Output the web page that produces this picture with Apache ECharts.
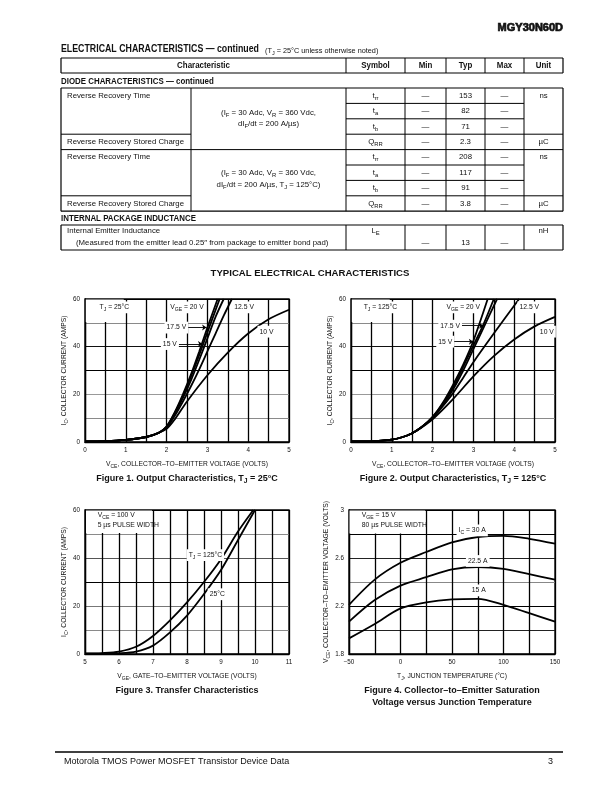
<!DOCTYPE html>
<html>
<head>
<meta charset="utf-8">
<script src="https://cdn.jsdelivr.net/npm/echarts@6/dist/echarts.min.js"></script>
<style>
html, body { margin: 0; padding: 0; background: #fff; }
#page { width: 612px; height: 792px; }
</style>
</head>
<body>
<div id="page"></div>
<script>
// ---- table values ----
const diodeSymbols = ['{n|t}{s|rr}', '{n|t}{s|a}', '{n|t}{s|b}', '{n|Q}{s|RR}'];
const typ25 = ['153', '82', '71', '2.3'];
const typ125 = ['208', '117', '91', '3.8'];
const diodeUnits = ['ns', 'µC'];
const leTyp = '13';

// ---- Figure 1: output characteristics, TJ = 25C  (VCE volts, IC amps) ----
const out25_20 = [[0, 0.3], [0.5, 0.4], [1, 0.9], [1.5, 2.1], [1.8, 3.8], [2, 6.5], [2.2, 12.5], [2.4, 20], [2.6, 28.5], [2.8, 38], [3, 48], [3.25, 60]];
const out25_175 = [[0, 0.3], [0.5, 0.4], [1, 0.9], [1.5, 2.1], [1.8, 3.8], [2, 6.5], [2.2, 12.2], [2.4, 19.3], [2.6, 27.5], [2.8, 36.5], [3, 46], [3.3, 60]];
const out25_15 = [[0, 0.3], [0.5, 0.4], [1, 0.9], [1.5, 2.1], [1.8, 3.8], [2, 6.3], [2.2, 11.8], [2.4, 18.5], [2.6, 26], [2.8, 34.5], [3, 43.5], [3.2, 52.5], [3.4, 60]];
const out25_125 = [[0, 0.3], [0.5, 0.4], [1, 0.9], [1.5, 2.1], [1.8, 3.8], [2, 6], [2.2, 11], [2.4, 17], [2.6, 23.5], [2.8, 30.5], [3, 38], [3.2, 45.5], [3.4, 53], [3.6, 60]];
const out25_10 = [[0, 0.3], [0.5, 0.4], [1, 0.9], [1.5, 2.1], [1.8, 3.8], [2, 5.5], [2.2, 9.5], [2.5, 17], [3, 28], [3.5, 37.5], [4, 45.5], [4.5, 51.5], [5, 55.5]];

// ---- Figure 2: output characteristics, TJ = 125C ----
const out125_20 = [[0, 0.2], [0.5, 0.3], [1, 1], [1.25, 2], [1.5, 3.7], [1.75, 6.5], [2, 10.5], [2.25, 16.5], [2.5, 24], [2.75, 32.5], [3, 42.5], [3.35, 60]];
const out125_175 = [[0, 0.2], [0.5, 0.3], [1, 1], [1.25, 2], [1.5, 3.7], [1.75, 6.5], [2, 10.5], [2.25, 16], [2.5, 23], [2.75, 31.5], [3, 40.5], [3.25, 49.5], [3.5, 60]];
const out125_15 = [[0, 0.2], [0.5, 0.3], [1, 1], [1.25, 2], [1.5, 3.7], [1.75, 6.5], [2, 10.3], [2.25, 15.5], [2.5, 22], [2.75, 30], [3, 39], [3.25, 48], [3.58, 60]];
const out125_125 = [[0, 0.2], [0.5, 0.3], [1, 1], [1.25, 2], [1.5, 3.7], [1.75, 6.5], [2, 10], [2.25, 15], [2.5, 20.5], [2.75, 27], [3, 33.5], [3.5, 45.5], [4.12, 60]];
const out125_10 = [[0, 0.2], [0.5, 0.3], [1, 1], [1.25, 2], [1.5, 3.7], [1.75, 6.3], [2, 9.5], [2.5, 18], [3, 27.5], [3.5, 36], [4, 43], [4.5, 48.5], [5, 52.5]];

// ---- Figure 3: transfer characteristics (VGE volts, IC amps) ----
const xfer125 = [[5, 0.2], [5.5, 0.4], [6, 1], [6.5, 3], [7, 7.5], [7.5, 14], [8, 21.5], [8.5, 30], [9, 39.5], [9.5, 51], [9.95, 60]];
const xfer25 = [[5, 0.1], [5.5, 0.15], [6, 0.3], [6.5, 1], [7, 3.5], [7.5, 9], [8, 16], [8.5, 25], [9, 35], [9.5, 47.5], [10, 60]];

// ---- Figure 4: VCE(sat) vs junction temperature (TJ C, volts) ----
const sat30 = [[-50, 2.21], [-25, 2.42], [0, 2.56], [25, 2.65], [50, 2.73], [75, 2.775], [100, 2.785], [125, 2.76], [150, 2.72]];
const sat225 = [[-50, 2.07], [-25, 2.25], [0, 2.37], [25, 2.44], [50, 2.505], [75, 2.525], [100, 2.51], [125, 2.465], [150, 2.42]];
const sat15 = [[-50, 1.93], [-25, 2.05], [0, 2.18], [25, 2.23], [50, 2.255], [75, 2.26], [100, 2.21], [125, 2.14], [150, 2.07]];

const FONT = '"Liberation Sans", Arial, Helvetica, sans-serif';
const INK = '#111';

function rich(size, bold) {
    const w = bold ? 'bold' : 'normal';
    return {
        n: { fontSize: size, fontFamily: FONT, fontWeight: w, color: INK, lineHeight: size + 3, verticalAlign: 'middle' },
        s: { fontSize: size * 0.75, fontFamily: FONT, fontWeight: w, color: INK, lineHeight: size * 0.75 + 1, verticalAlign: 'bottom' }
    };
}

function txt(x, y, text, size, opt) {
    opt = opt || {};
    const el = {
        type: 'text', x: x, y: y, silent: true,
        scaleX: opt.sx || 1,
        style: {
            text: text, fill: INK, fontFamily: FONT, fontSize: size,
            fontWeight: opt.bold ? 'bold' : 'normal',
            align: opt.align || 'left', verticalAlign: 'middle',
            rich: rich(size, opt.bold)
        }
    };
    if (opt.stroke) { el.style.stroke = INK; el.style.lineWidth = opt.stroke; }
    return el;
}

function hl(x1, x2, y, w) {
    return { type: 'line', silent: true, shape: { x1: x1, y1: y, x2: x2, y2: y }, style: { stroke: '#000', lineWidth: w || 1 } };
}
function vl(x, y1, y2, w) {
    return { type: 'line', silent: true, shape: { x1: x, y1: y1, x2: x, y2: y2 }, style: { stroke: '#000', lineWidth: w || 1 } };
}

// ---- table layout ----
const colX = [61, 191, 346, 405, 446, 485, 524, 563];
const rowY = [88, 103.4, 118.8, 134.2, 149.6, 165, 180.4, 195.8, 211.2];
const colMid = i => (colX[i] + colX[i + 1]) / 2;
const rowMid = i => (rowY[i] + rowY[i + 1]) / 2;
const TS = 7.8;

const graphics = [];
graphics.push(txt(563, 28, 'MGY30N60D', 11, { bold: true, align: 'right', stroke: 0.7 }));
const title = txt(61, 49.5, '{b|ELECTRICAL CHARACTERISTICS — continued}', 10, { bold: true, sx: 0.88 });
title.style.rich.b = { fontSize: 10, fontFamily: FONT, fontWeight: 'bold', color: INK, lineHeight: 12, verticalAlign: 'middle' };
graphics.push(title);
graphics.push(txt(265, 50.5, '{n|(T}{s|J}{n| = 25°C unless otherwise noted)}', 7.3, {}));

// header box
graphics.push(hl(61, 563, 58, 1.2), hl(61, 563, 73, 1.2), vl(61, 58, 73, 1.2), vl(563, 58, 73, 1.2));
for (let i = 2; i <= 6; i++) graphics.push(vl(colX[i], 58, 73));
const heads = ['Characteristic', 'Symbol', 'Min', 'Typ', 'Max', 'Unit'];
graphics.push(txt((61 + 346) / 2, 65.5, heads[0], 9, { bold: true, align: 'center', sx: 0.88 }));
for (let i = 1; i < heads.length; i++) graphics.push(txt(colMid(i + 1), 65.5, heads[i], 9, { bold: true, align: 'center', sx: 0.88 }));

graphics.push(txt(61, 81, 'DIODE CHARACTERISTICS — continued', 9.2, { bold: true, sx: 0.86 }));

// diode box
graphics.push(hl(61, 563, rowY[0], 1.2), hl(61, 563, rowY[8], 1.2), vl(61, rowY[0], rowY[8], 1.2), vl(563, rowY[0], rowY[8], 1.2));
for (let i = 1; i <= 6; i++) graphics.push(vl(colX[i], rowY[0], rowY[8]));
[1, 2, 5, 6].forEach(r => graphics.push(hl(colX[2], colX[6], rowY[r])));
[3, 7].forEach(r => graphics.push(hl(colX[0], colX[1], rowY[r]), hl(colX[2], colX[7], rowY[r])));
graphics.push(hl(61, 563, rowY[4]));

[typ25, typ125].forEach((vals, g) => {
    const r0 = g * 4;
    graphics.push(txt(67, rowMid(r0), 'Reverse Recovery Time', TS));
    graphics.push(txt(67, rowMid(r0 + 3), 'Reverse Recovery Stored Charge', TS));
    for (let k = 0; k < 4; k++) {
        graphics.push(txt(colMid(2), rowMid(r0 + k), diodeSymbols[k], TS, { align: 'center' }));
        graphics.push(txt(colMid(3), rowMid(r0 + k), '—', TS, { align: 'center' }));
        graphics.push(txt(colMid(4), rowMid(r0 + k), vals[k], TS, { align: 'center' }));
        graphics.push(txt(colMid(5), rowMid(r0 + k), '—', TS, { align: 'center' }));
    }
    graphics.push(txt(colMid(6), rowMid(r0), diodeUnits[0], TS, { align: 'center' }));
    graphics.push(txt(colMid(6), rowMid(r0 + 3), diodeUnits[1], TS, { align: 'center' }));
});
graphics.push(txt(colMid(1), 113, '{n|(I}{s|F}{n| = 30 Adc, V}{s|R}{n| = 360 Vdc,}', TS, { align: 'center' }));
graphics.push(txt(colMid(1), 124, '{n|dI}{s|F}{n|/dt = 200 A/µs)}', TS, { align: 'center' }));
graphics.push(txt(colMid(1), 173, '{n|(I}{s|F}{n| = 30 Adc, V}{s|R}{n| = 360 Vdc,}', TS, { align: 'center' }));
graphics.push(txt(colMid(1), 184.5, '{n|dI}{s|F}{n|/dt = 200 A/µs, T}{s|J}{n| = 125°C)}', TS, { align: 'center' }));

graphics.push(txt(61, 218, 'INTERNAL PACKAGE INDUCTANCE', 9.2, { bold: true, sx: 0.86 }));
graphics.push(hl(61, 563, 225, 1.2), hl(61, 563, 250, 1.2), vl(61, 225, 250, 1.2), vl(563, 225, 250, 1.2));
for (let i = 2; i <= 6; i++) graphics.push(vl(colX[i], 225, 250));
graphics.push(txt(67, 231, 'Internal Emitter Inductance', TS));
graphics.push(txt(76, 242.5, '(Measured from the emitter lead 0.25″ from package to emitter bond pad)', TS));
graphics.push(txt(colMid(2), 231, '{n|L}{s|E}', TS, { align: 'center' }));
graphics.push(txt(colMid(3), 242.5, '—', TS, { align: 'center' }));
graphics.push(txt(colMid(4), 242.5, leTyp, TS, { align: 'center' }));
graphics.push(txt(colMid(5), 242.5, '—', TS, { align: 'center' }));
graphics.push(txt(colMid(6), 231, 'nH', TS, { align: 'center' }));

// section and figure captions
const CAP = 9;
graphics.push(txt(310, 273, 'TYPICAL ELECTRICAL CHARACTERISTICS', 9.6, { bold: true, align: 'center' }));
graphics.push(txt(187, 479, '{n|Figure 1. Output Characteristics, T}{s|J}{n| = 25°C}', CAP, { bold: true, align: 'center' }));
graphics.push(txt(453, 479, '{n|Figure 2. Output Characteristics, T}{s|J}{n| = 125°C}', CAP, { bold: true, align: 'center' }));
graphics.push(txt(187, 691, 'Figure 3. Transfer Characteristics', CAP, { bold: true, align: 'center' }));
graphics.push(txt(452, 691, 'Figure 4. Collector–to–Emitter Saturation', CAP, { bold: true, align: 'center' }));
graphics.push(txt(452, 702.5, 'Voltage versus Junction Temperature', CAP, { bold: true, align: 'center' }));

// footer
graphics.push(hl(55, 563, 752, 1.6));
graphics.push(txt(64, 762, 'Motorola TMOS Power MOSFET Transistor Device Data', 9));
graphics.push(txt(553, 762, '3', 9, { align: 'right' }));

// ---- chart helpers ----
const LS = 6.3;   // tick labels
const NS = 6.7;   // axis names
const AS = 6.8;   // in-plot notes
const axisText = { fontSize: LS, fontFamily: FONT, color: INK };
const gridDefs = [
    { left: 85, top: 299, width: 204, height: 143 },
    { left: 351, top: 299, width: 204, height: 143 },
    { left: 85, top: 510, width: 204, height: 144 },
    { left: 349, top: 510, width: 206, height: 144 }
];

function xAxisDef(i, min, max, interval, name, fmt) {
    return {
        type: 'value', gridIndex: i, min: min, max: max, interval: interval,
        name: name, nameLocation: 'middle', nameGap: 17,
        nameTextStyle: { fontSize: NS, fontFamily: FONT, color: INK, rich: rich(NS) },
        axisLine: { show: true, onZero: false, lineStyle: { color: '#000', width: 1.3 } },
        axisTick: { show: false },
        axisLabel: Object.assign({}, axisText, { margin: 5, interval: 0, formatter: fmt }),
        splitLine: { show: true, lineStyle: { color: '#000', width: 1.3 } },
        minorTick: { show: false, splitNumber: 2 },
        minorSplitLine: { show: true, lineStyle: { color: '#000', width: 1.3 } }
    };
}
function yAxisDef(i, min, max, interval, name, colors, fmt) {
    return {
        type: 'value', gridIndex: i, min: min, max: max, interval: interval,
        name: name, nameLocation: 'middle', nameGap: 14,
        nameTextStyle: { fontSize: NS, fontFamily: FONT, color: INK, rich: rich(NS) },
        axisLine: { show: true, onZero: false, lineStyle: { color: '#000', width: 1.3 } },
        axisTick: { show: false },
        axisLabel: Object.assign({}, axisText, { margin: 5, interval: 0, formatter: fmt }),
        splitLine: { show: true, lineStyle: { color: colors, width: 1.2 } }
    };
}
function curve(i, data) {
    return {
        type: 'line', xAxisIndex: i, yAxisIndex: i, data: data,
        smooth: 0.3, symbol: 'none', silent: true,
        lineStyle: { color: '#000', width: 1.8 }
    };
}
function notes(i, points, arrows, box) {
    return {
        type: 'line', xAxisIndex: i, yAxisIndex: i, data: [], silent: true,
        markPoint: {
            symbol: 'rect', symbolSize: 1, itemStyle: { color: 'rgba(0,0,0,0)' },
            label: {
                show: true, position: 'inside', fontSize: AS, fontFamily: FONT, color: INK,
                backgroundColor: '#fff', padding: [1, 2], rich: rich(AS)
            },
            data: points.map(p => ({
                coord: [p[0], p[1]],
                label: Object.assign({ formatter: p[2] }, p[3] ? { position: 'right', distance: 0, backgroundColor: 'transparent' } : {})
            }))
        },
        markLine: {
            symbol: ['none', 'arrow'], symbolSize: 4.5, silent: true,
            lineStyle: { color: '#000', width: 0.9, type: 'solid' },
            label: { show: false },
            data: arrows.map(a => [{ coord: [a[0], a[2]] }, { coord: [a[1], a[2]] }])
        },
        markArea: box ? {
            silent: true, label: { show: false },
            itemStyle: { color: '#fff', opacity: 1 },
            data: [[{ coord: [box[0], box[2]] }, { coord: [box[1], box[3]] }]]
        } : undefined
    };
}

const intFmt = v => String(v);
const ampFmt = v => (Math.round(v) % 20 === 0 ? String(Math.round(v)) : '');
const ampColors = ['#000', '#8a8a8a', '#999', '#000', '#111', '#8a8a8a', '#000'];
const xferColors = ['#000', '#8a8a8a', '#777', '#000', '#555', '#8a8a8a', '#000'];
const satColors = ['#000', '#222', '#000', '#888', '#222', '#000', '#000'];

const vceName = '{n|V}{s|CE}{n|, COLLECTOR–TO–EMITTER VOLTAGE (VOLTS)}';
const icName = '{n|I}{s|C}{n|, COLLECTOR CURRENT (AMPS)}';

const option = {
    backgroundColor: '#fff',
    animation: false,
    graphic: { elements: graphics },
    grid: gridDefs.map(g => Object.assign({ show: true, borderColor: '#000', borderWidth: 1.3, backgroundColor: '#fff' }, g)),
    xAxis: [
        xAxisDef(0, 0, 5, 1, vceName, intFmt),
        xAxisDef(1, 0, 5, 1, vceName, intFmt),
        xAxisDef(2, 5, 11, 1, '{n|V}{s|GE}{n|, GATE–TO–EMITTER VOLTAGE (VOLTS)}', intFmt),
        xAxisDef(3, -50, 150, 50, '{n|T}{s|J}{n|, JUNCTION TEMPERATURE (°C)}', v => (v < 0 ? '−' + (-v) : String(v)))
    ],
    yAxis: [
        yAxisDef(0, 0, 60, 10, icName, ampColors, ampFmt),
        yAxisDef(1, 0, 60, 10, icName, ampColors, ampFmt),
        yAxisDef(2, 0, 60, 10, icName, xferColors, ampFmt),
        yAxisDef(3, 1.8, 3, 0.2, vceName, satColors, (v, idx) => (idx % 2 === 0 ? String(+v.toFixed(1)) : ''))
    ],
    series: [
        curve(0, out25_20), curve(0, out25_175), curve(0, out25_15), curve(0, out25_125), curve(0, out25_10),
        notes(0, [
            [0.72, 56.5, '{n|T}{s|J}{n| = 25°C}'],
            [2.5, 56.5, '{n|V}{s|GE}{n| = 20 V}'],
            [3.9, 56.5, '{n|12.5 V}'],
            [4.45, 46.3, '{n|10 V}'],
            [2.24, 48, '{n|17.5 V}'],
            [2.08, 41.1, '{n|15 V}']
        ], [[2.5, 2.98, 48], [2.3, 2.88, 41.1]], [0.02, 0.95, 50.4, 59.8]),

        curve(1, out125_20), curve(1, out125_175), curve(1, out125_15), curve(1, out125_125), curve(1, out125_10),
        notes(1, [
            [0.72, 56.5, '{n|T}{s|J}{n| = 125°C}'],
            [2.75, 56.5, '{n|V}{s|GE}{n| = 20 V}'],
            [4.37, 56.5, '{n|12.5 V}'],
            [4.8, 46.3, '{n|10 V}'],
            [2.43, 48.8, '{n|17.5 V}'],
            [2.31, 42.1, '{n|15 V}']
        ], [[2.72, 3.25, 48.8], [2.52, 3.0, 42.1]], [0.02, 0.95, 50.4, 59.8]),

        curve(2, xfer125), curve(2, xfer25),
        notes(2, [
            [5.3, 57.8, '{n|V}{s|CE}{n| = 100 V}', true],
            [5.3, 53.8, '{n|5 µs PULSE WIDTH}', true],
            [8.54, 41.2, '{n|T}{s|J}{n| = 125°C}'],
            [8.89, 24.9, '{n|25°C}']
        ], [], [5.03, 6.97, 50.4, 59.8]),

        curve(3, sat30), curve(3, sat225), curve(3, sat15),
        notes(3, [
            [-40, 2.955, '{n|V}{s|GE}{n| = 15 V}', true],
            [-40, 2.875, '{n|80 µs PULSE WIDTH}', true],
            [69.6, 2.83, '{n|I}{s|C}{n| = 30 A}'],
            [75, 2.575, '{n|22.5 A}'],
            [76, 2.33, '{n|15 A}']
        ], [], [-49.5, 24, 2.805, 2.995])
    ]
};

const chart = echarts.init(document.getElementById('page'), null, { renderer: 'canvas' });
chart.setOption(option);
</script>
</body>
</html>
